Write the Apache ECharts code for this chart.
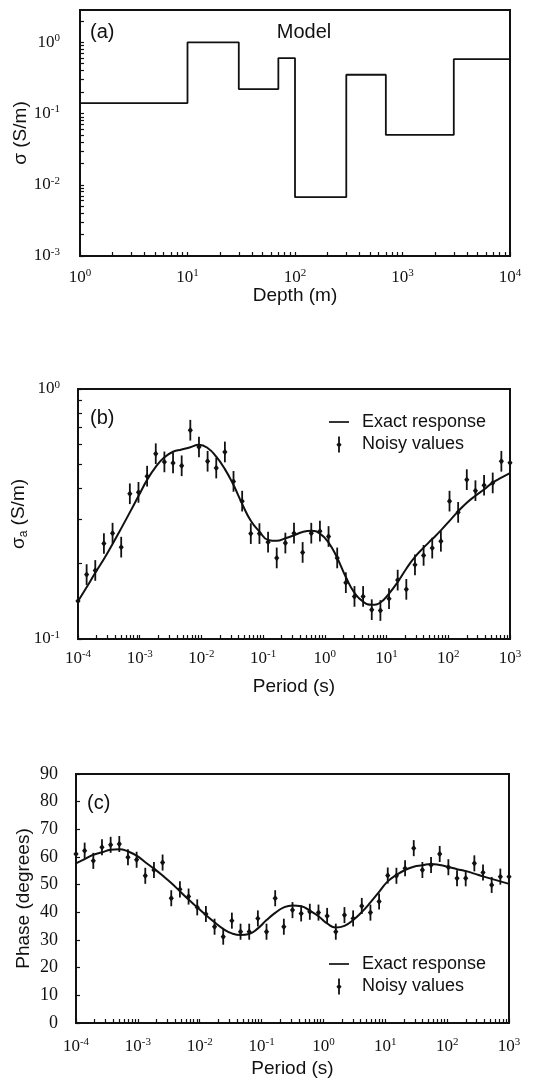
<!DOCTYPE html>
<html>
<head>
<meta charset="utf-8">
<script src="https://cdn.jsdelivr.net/npm/echarts@6/dist/echarts.min.js"></script>
<style>
  html, body { margin: 0; padding: 0; background: #ffffff; }
  #chart { width: 552px; height: 1085px; }
</style>
</head>
<body>
<div id="chart"></div>
<script>
// ---- (a) layered conductivity model ----
const layerTopDepth = [1, 10, 30, 70, 100, 300, 700, 3000];      // m
const layerSigma    = [0.14, 1.0, 0.22, 0.6, 0.0067, 0.35, 0.05, 0.58]; // S/m
const modelBaseDepth = 10000;

// ---- (b), (c) sounding periods (s) ----
const periods = [
  1.000e-4, 1.380e-4, 1.905e-4, 2.630e-4, 3.631e-4, 5.012e-4, 6.918e-4, 9.550e-4,
  1.318e-3, 1.820e-3, 2.512e-3, 3.467e-3, 4.786e-3, 6.607e-3, 9.120e-3,
  1.259e-2, 1.738e-2, 2.399e-2, 3.311e-2, 4.571e-2, 6.310e-2, 8.710e-2,
  0.1202, 0.1660, 0.2291, 0.3162, 0.4365, 0.6026, 0.8318,
  1.148, 1.585, 2.188, 3.020, 4.169, 5.754, 7.943,
  10.96, 15.14, 20.89, 28.84, 39.81, 54.95, 75.86,
  104.7, 144.5, 199.5, 275.4, 380.2, 524.8, 724.4, 1000
];

// apparent conductivity (S/m)
const sigmaExact = [
  0.1416, 0.161, 0.184, 0.209, 0.240, 0.277, 0.321, 0.373, 0.433, 0.488,
  0.533, 0.561, 0.573, 0.585, 0.598, 0.581, 0.536, 0.478, 0.413, 0.347,
  0.297, 0.269, 0.249, 0.247, 0.253, 0.260, 0.268, 0.271, 0.264, 0.243,
  0.211, 0.177, 0.153, 0.141, 0.137, 0.140, 0.152, 0.169, 0.191, 0.213,
  0.232, 0.251, 0.272, 0.297, 0.324, 0.351, 0.374, 0.396, 0.422, 0.442, 0.461
];
const sigmaNoisy = [
  0.142, 0.181, 0.188, 0.241, 0.265, 0.233, 0.381, 0.386, 0.448, 0.551,
  0.511, 0.506, 0.493, 0.684, 0.586, 0.514, 0.483, 0.560, 0.427, 0.356,
  0.264, 0.264, 0.244, 0.211, 0.242, 0.265, 0.222, 0.265, 0.270, 0.257,
  0.211, 0.168, 0.148, 0.148, 0.131, 0.130, 0.145, 0.172, 0.158, 0.198,
  0.216, 0.231, 0.246, 0.356, 0.321, 0.434, 0.392, 0.412, 0.421, 0.514, 0.507
];
const sigmaRelError = 0.10;   // 10 % noise on apparent conductivity

// phase (degrees)
const phaseExact = [
  57.7, 59.2, 60.8, 61.7, 62.6, 62.8, 62.0, 60.5, 58.1, 55.8,
  53.3, 50.6, 47.6, 44.6, 41.8, 39.0, 36.4, 34.0, 32.4, 31.8,
  32.2, 34.2, 37.2, 39.8, 41.8, 42.5, 42.2, 40.6, 38.6, 36.0,
  34.5, 35.1, 37.2, 40.1, 43.6, 47.4, 51.2, 53.5, 55.3, 56.5,
  57.0, 57.5, 57.1, 56.4, 55.6, 54.9, 54.0, 53.0, 52.1, 51.2, 50.3
];
const phaseNoisy = [
  61.1, 62.3, 58.6, 63.5, 64.4, 64.7, 59.9, 59.0, 53.2, 55.3,
  58.0, 45.1, 48.3, 45.7, 41.8, 39.4, 34.8, 31.2, 37.0, 33.0,
  33.0, 37.8, 33.0, 45.1, 34.8, 40.8, 39.6, 40.2, 39.9, 38.7,
  33.0, 39.0, 37.8, 42.3, 39.9, 43.9, 53.3, 53.2, 55.9, 63.2,
  55.3, 57.1, 61.1, 56.3, 52.3, 52.3, 57.7, 54.4, 49.9, 52.9, 52.9
];
const phaseError = 2.9;       // degrees

// ---- axis labels ----
const depthDecades      = [1, 10, 100, 1000, 10000];
const modelSigmaDecades = [0.001, 0.01, 0.1, 1];
const periodDecades     = [1e-4, 1e-3, 1e-2, 1e-1, 1, 10, 100, 1000];
const appSigmaDecades   = [0.1, 1];
const phaseLabels       = [0, 10, 20, 30, 40, 50, 60, 70, 80, 90];

const INK = '#111111';
const SANS = '"Liberation Sans", Arial, Helvetica, sans-serif';
const SERIF = '"Liberation Serif", "Times New Roman", serif';

// 1..9 multiples of every decade, up to the axis end
function decadeTicks(decades, upper) {
  const out = [];
  decades.forEach(function (d) {
    for (let m = 1; m <= 9; m++) {
      const v = +(d * m).toPrecision(6);
      if (v <= upper * 1.000001) out.push(v);
    }
  });
  return out;
}

function powerLabel(v) {
  const e = Math.round(Math.log10(v));
  return '{b|10}{e|' + e + '}';
}
const powerRich = {
  b: { fontFamily: SERIF, fontSize: 17, color: INK, lineHeight: 19 },
  e: { fontFamily: SERIF, fontSize: 11, color: INK, lineHeight: 11, verticalAlign: 'top' }
};

function logAxis(gridIndex, min, max, labels, margin, extra) {
  return Object.assign({
    type: 'log',
    logBase: 10,
    gridIndex: gridIndex,
    min: min,
    max: max,
    nameMoveOverlap: false,
    axisLine: { show: true, lineStyle: { color: INK, width: 2 } },
    axisTick: {
      show: true, inside: true, length: 4,
      lineStyle: { color: INK, width: 1.2 },
      customValues: decadeTicks(labels, max)
    },
    axisLabel: {
      customValues: labels,
      formatter: powerLabel,
      rich: powerRich,
      margin: margin
    },
    splitLine: { show: false },
    minorTick: { show: false }
  }, extra || {});
}

const nameStyle = { fontFamily: SANS, fontSize: 19, color: INK };

const LINE_ICON = 'path://M0,0H20V1.7H0Z';
const BAR_ICON = 'path://M3.1,0H4.9V16H3.1Z M4,5.2L6.6,8.2L4,11.2L1.4,8.2Z';

function errorBarItem(params, api) {
  const x = api.value(0);
  const top = api.coord([x, api.value(3)]);
  const bot = api.coord([x, api.value(2)]);
  const mid = api.coord([x, api.value(1)]);
  return {
    type: 'group',
    children: [
      { type: 'line', shape: { x1: top[0], y1: top[1], x2: bot[0], y2: bot[1] },
        style: { stroke: INK, lineWidth: 1.8 } },
      { type: 'polygon',
        shape: { points: [[mid[0], mid[1] - 3.2], [mid[0] + 2.6, mid[1]], [mid[0], mid[1] + 3.2], [mid[0] - 2.6, mid[1]]] },
        style: { fill: INK } }
    ]
  };
}

const modelLine = layerTopDepth.map(function (d, i) { return [d, layerSigma[i]]; });
modelLine.push([modelBaseDepth, layerSigma[layerSigma.length - 1]]);

const sigmaExactData = periods.map(function (t, i) { return [t, sigmaExact[i]]; });
const sigmaNoisyData = periods.map(function (t, i) {
  return [t, sigmaNoisy[i], sigmaNoisy[i] / (1 + sigmaRelError), sigmaNoisy[i] * (1 + sigmaRelError)];
});
const phaseExactData = periods.map(function (t, i) { return [t, phaseExact[i]]; });
const phaseNoisyData = periods.map(function (t, i) {
  return [t, phaseNoisy[i], phaseNoisy[i] - phaseError, phaseNoisy[i] + phaseError];
});

const legendBase = {
  orient: 'vertical',
  padding: 0,
  itemWidth: 20,
  itemHeight: 16,
  itemGap: 2.5,
  selectedMode: false,
  symbolKeepAspect: true,
  textStyle: { fontFamily: SANS, fontSize: 18, color: INK, lineHeight: 20, padding: [0, 0, 0, 8] },
  lineStyle: { width: 0 },
  data: [
    { name: 'Exact response', icon: LINE_ICON, itemStyle: { color: INK, borderWidth: 0 } },
    { name: 'Noisy values', icon: BAR_ICON, itemStyle: { color: INK, borderWidth: 0 } }
  ]
};

const chart = echarts.init(document.getElementById('chart'), null, { renderer: 'canvas' });

chart.setOption({
  backgroundColor: '#ffffff',
  animation: false,
  grid: [
    { left: 80, top: 10, width: 430, height: 246 },
    { left: 78, top: 389, width: 432, height: 250 },
    { left: 76, top: 774, width: 433, height: 249 }
  ].map(function (g) {
    return Object.assign({
      show: true, borderColor: INK, borderWidth: 2, backgroundColor: 'transparent',
      containLabel: false, outerBoundsMode: 'none'
    }, g);
  }),
  xAxis: [
    logAxis(0, 1, 10000, depthDecades, 12, {
      name: 'Depth (m)', nameLocation: 'middle', nameGap: 30, nameTextStyle: nameStyle
    }),
    logAxis(1, 1e-4, 1000, periodDecades, 10, {
      name: 'Period (s)', nameLocation: 'middle', nameGap: 38, nameTextStyle: nameStyle
    }),
    logAxis(2, 1e-4, 1000, periodDecades, 14, {
      name: 'Period (s)', nameLocation: 'middle', nameGap: 36, nameTextStyle: nameStyle
    })
  ],
  yAxis: [
    logAxis(0, 0.001, 2.84, modelSigmaDecades, 20, {
      name: 'σ (S/m)', nameLocation: 'middle', nameGap: 50, nameTextStyle: nameStyle
    }),
    logAxis(1, 0.1, 1, appSigmaDecades, 18, {
      name: '{n|σ}{s|a}{n| (S/m)}', nameLocation: 'middle', nameGap: 48,
      nameTextStyle: Object.assign({}, nameStyle, {
        rich: {
          n: { fontFamily: SANS, fontSize: 19, color: INK, lineHeight: 22 },
          s: { fontFamily: SANS, fontSize: 12, color: INK, lineHeight: 12, verticalAlign: 'bottom' }
        }
      })
    }),
    {
      type: 'value', gridIndex: 2, min: 0, max: 90, interval: 10,
      name: 'Phase (degrees)', nameLocation: 'middle', nameGap: 43, nameTextStyle: nameStyle,
      nameMoveOverlap: false,
      axisLine: { show: true, lineStyle: { color: INK, width: 2 } },
      axisTick: { show: true, inside: true, length: 4, lineStyle: { color: INK, width: 1.2 } },
      axisLabel: { customValues: phaseLabels, fontFamily: SERIF, fontSize: 18, color: INK, margin: 18 },
      splitLine: { show: false }
    }
  ],
  legend: [
    Object.assign({ left: 329, top: 412 }, legendBase),
    Object.assign({ left: 329, top: 954 }, legendBase)
  ],
  graphic: [
    { type: 'text', x: 90, y: 32, style: { text: '(a)', fontFamily: SANS, fontSize: 20, fill: INK, verticalAlign: 'middle' } },
    { type: 'text', x: 304, y: 32, style: { text: 'Model', fontFamily: SANS, fontSize: 20, fill: INK, align: 'center', verticalAlign: 'middle' } },
    { type: 'text', x: 90, y: 418, style: { text: '(b)', fontFamily: SANS, fontSize: 20, fill: INK, verticalAlign: 'middle' } },
    { type: 'text', x: 87, y: 803, style: { text: '(c)', fontFamily: SANS, fontSize: 20, fill: INK, verticalAlign: 'middle' } }
  ],
  series: [
    {
      name: 'Model', type: 'line', xAxisIndex: 0, yAxisIndex: 0,
      step: 'end', showSymbol: false, data: modelLine,
      lineStyle: { color: INK, width: 1.8 }, itemStyle: { color: INK }
    },
    {
      name: 'Exact response', type: 'line', xAxisIndex: 1, yAxisIndex: 1,
      smooth: true, showSymbol: false, data: sigmaExactData,
      lineStyle: { color: INK, width: 2 }, itemStyle: { color: INK }, z: 3
    },
    {
      name: 'Noisy values', type: 'custom', xAxisIndex: 1, yAxisIndex: 1,
      renderItem: errorBarItem, data: sigmaNoisyData,
      encode: { x: 0, y: 1 }, itemStyle: { color: INK }, z: 4
    },
    {
      name: 'Exact response', type: 'line', xAxisIndex: 2, yAxisIndex: 2,
      smooth: true, showSymbol: false, data: phaseExactData,
      lineStyle: { color: INK, width: 2 }, itemStyle: { color: INK }, z: 3
    },
    {
      name: 'Noisy values', type: 'custom', xAxisIndex: 2, yAxisIndex: 2,
      renderItem: errorBarItem, data: phaseNoisyData,
      encode: { x: 0, y: 1 }, itemStyle: { color: INK }, z: 4
    }
  ]
});
</script>
</body>
</html>
